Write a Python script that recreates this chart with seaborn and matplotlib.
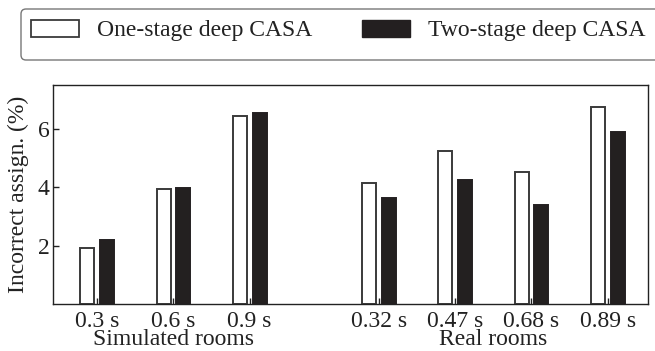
import matplotlib
matplotlib.use("Agg")
import matplotlib.pyplot as plt
import seaborn as sns
import pandas as pd
from matplotlib.patches import Patch, FancyBboxPatch
from matplotlib.transforms import IdentityTransform

# ---- data ----
conditions = ["0.3 s", "0.6 s", "0.9 s", "0.32 s", "0.47 s", "0.68 s", "0.89 s"]
groups = ["Simulated rooms"] * 3 + ["Real rooms"] * 4
one_stage = [1.92, 3.93, 6.43, 4.14, 5.23, 4.51, 6.74]
two_stage = [2.20, 3.98, 6.54, 3.63, 4.24, 3.40, 5.88]
series_names = ["One-stage deep CASA", "Two-stage deep CASA"]
ylabel = "Incorrect assign. (%)"
yticks = [2, 4, 6]

# layout positions (with gap between the two room groups)
positions = [0.0, 1.0, 2.0, 3.7, 4.7, 5.7, 6.7]

df = pd.DataFrame({
    "pos": positions * 2,
    "value": one_stage + two_stage,
    "series": [series_names[0]] * 7 + [series_names[1]] * 7,
})

sns.set_theme(style="white")
plt.rcParams["font.family"] = ["Liberation Serif", "DejaVu Serif"]

W, H = 655, 351
fig = plt.figure(figsize=(6.55, 3.51), dpi=100)
ax = fig.add_axes([53.5 / W, 1 - 304.2 / H, (648 - 53.5) / W, (304.2 - 85) / H])

sns.barplot(data=df, x="pos", y="value", hue="series", native_scale=True,
            palette=["white", "#231f20"], width=0.52, gap=0.29,
            edgecolor="#3a3a3a", linewidth=1.4, ax=ax, legend=False,
            errorbar=None)

for patch in ax.patches:
    fc = patch.get_facecolor()
    if fc[0] < 0.5:
        patch.set_edgecolor("#231f20")

ax.set_xlim(-0.575, 7.23)
ax.set_ylim(0, 7.5)
ax.set_xticks(positions)
ax.set_xticklabels(conditions, fontsize=17, color="#222222")
ax.set_yticks(yticks)
ax.set_yticklabels([str(t) for t in yticks], fontsize=17, color="#222222")
ax.set_xlabel("")
ax.set_ylabel(ylabel, fontsize=17, color="#222222", labelpad=6)
ax.tick_params(axis="both", direction="in", length=4, width=1, color="#222222",
               left=True, bottom=True, pad=3)
ax.tick_params(axis="x", pad=5)
for s in ax.spines.values():
    s.set_visible(True)
    s.set_color("#222222")
    s.set_linewidth(1.0)

# group labels under tick labels
sim_center = sum(positions[:3]) / 3
real_center = sum(positions[3:]) / 4
ax.text(sim_center, -0.188, groups[0], transform=ax.get_xaxis_transform(),
        ha="center", va="baseline", fontsize=17, color="#222222")
ax.text(real_center, -0.188, groups[-1], transform=ax.get_xaxis_transform(),
        ha="center", va="baseline", fontsize=17, color="#222222")

# legend (frame drawn separately so that it runs off the right edge)
frame = FancyBboxPatch((21, H - 60), 680, 51, transform=IdentityTransform(),
                       boxstyle="round,pad=0,rounding_size=5",
                       facecolor="white", edgecolor="#777777", linewidth=1.0,
                       figure=fig)
fig.patches.append(frame)

handles = [Patch(facecolor="white", edgecolor="#3a3a3a", linewidth=1.3),
           Patch(facecolor="#231f20", edgecolor="#231f20")]
leg = fig.legend(handles, series_names, loc="center left",
                 bbox_to_anchor=(30.7 / W, 1 - 30.5 / H), ncol=2,
                 fontsize=17, frameon=False,
                 handlelength=2.03, handleheight=0.75, handletextpad=0.78,
                 columnspacing=2.1, borderpad=0, borderaxespad=0)
for t in leg.get_texts():
    t.set_color("#222222")

fig.savefig("out.png", dpi=100)
